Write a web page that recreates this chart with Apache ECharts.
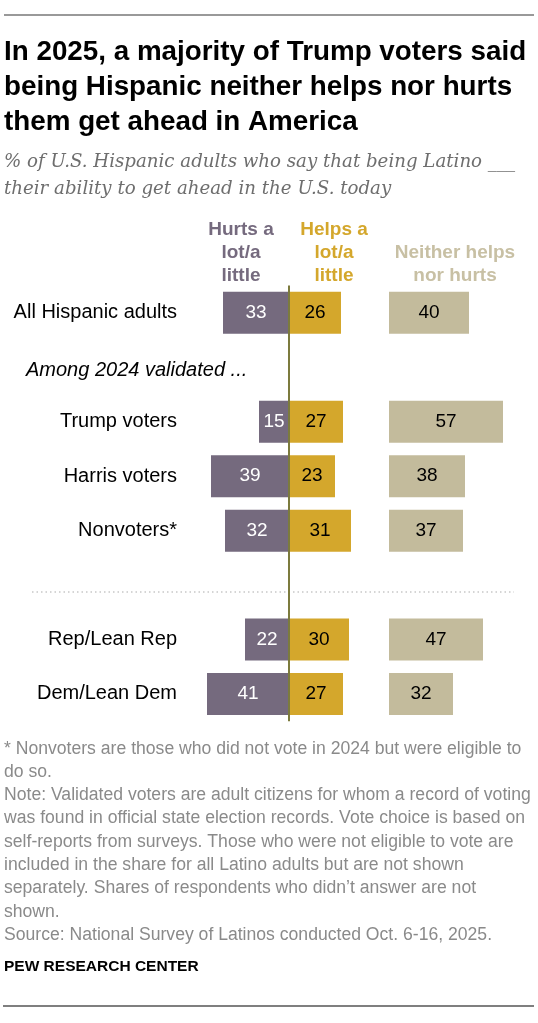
<!DOCTYPE html>
<html>
<head>
<meta charset="utf-8">
<script src="https://cdn.jsdelivr.net/npm/echarts@6/dist/echarts.min.js"></script>
<style>
  html, body { margin: 0; padding: 0; background: #fff; }
  #chart { width: 538px; height: 1023px; }
</style>
</head>
<body>
<div id="chart"></div>
<script>
// rows top to bottom, '' marks a spacer row
const groups = ['All Hispanic adults', '', 'Trump voters', 'Harris voters', 'Nonvoters*', '', 'Rep/Lean Rep', 'Dem/Lean Dem']
const hurts = [33, null, 15, 39, 32, null, 22, 41]
const helps = [26, null, 27, 23, 31, null, 30, 27]
const neither = [40, null, 57, 38, 37, null, 47, 32]
const headers = ['Hurts a\nlot/a\nlittle', 'Helps a\nlot/a\nlittle', 'Neither helps\nnor hurts']

const PURPLE = '#756a7e'
const GOLD = '#d4a72c'
const BEIGE = '#c3bb9c'
const AXIS = '#7c7b3d'
const SANS = '"Liberation Sans", Arial, sans-serif'

const chart = echarts.init(document.getElementById('chart'))

const gridTop = 285.6
const gridH = 435.6

const notes = '* Nonvoters are those who did not vote in 2024 but were eligible to\ndo so.\n' +
  'Note: Validated voters are adult citizens for whom a record of voting\n' +
  'was found in official state election records. Vote choice is based on\n' +
  'self-reports from surveys. Those who were not eligible to vote are\n' +
  'included in the share for all Latino adults but are not shown\n' +
  'separately. Shares of respondents who didn\u2019t answer are not\nshown.\n' +
  'Source: National Survey of Latinos conducted Oct. 6-16, 2025.'

chart.setOption({
  animation: false,
  grid: [
    { left: 189, width: 200, top: gridTop, height: gridH },
    { left: 389, width: 130, top: gridTop, height: gridH }
  ],
  xAxis: [
    { gridIndex: 0, type: 'value', min: -50, max: 50, show: false },
    { gridIndex: 1, type: 'value', min: 0, max: 65, show: false }
  ],
  yAxis: [
    {
      gridIndex: 0, type: 'category', inverse: true, data: groups,
      axisLine: { show: false }, axisTick: { show: false },
      axisLabel: { margin: 12, color: '#000', fontSize: 20, fontFamily: SANS }
    },
    { gridIndex: 1, type: 'category', inverse: true, data: groups, show: false }
  ],
  series: [
    {
      name: 'Hurts', type: 'bar', xAxisIndex: 0, yAxisIndex: 0,
      data: hurts.map(v => v == null ? null : -v),
      barWidth: 42, barGap: '-100%',
      itemStyle: { color: PURPLE },
      label: { show: true, position: 'inside', color: '#fff', fontSize: 19, fontFamily: SANS,
        formatter: p => Math.abs(p.value) }
    },
    {
      name: 'Helps', type: 'bar', xAxisIndex: 0, yAxisIndex: 0,
      data: helps,
      barWidth: 42, barGap: '-100%',
      itemStyle: { color: GOLD },
      label: { show: true, position: 'inside', color: '#000', fontSize: 19, fontFamily: SANS },
      markLine: {
        silent: true, symbol: 'none', label: { show: false },
        lineStyle: { color: AXIS, width: 2, type: 'solid' },
        data: [{ xAxis: 0 }]
      }
    },
    {
      name: 'Neither', type: 'bar', xAxisIndex: 1, yAxisIndex: 1,
      data: neither,
      barWidth: 42,
      itemStyle: { color: BEIGE },
      label: { show: true, position: 'inside', color: '#000', fontSize: 19, fontFamily: SANS }
    }
  ],
  graphic: [
    { type: 'line', shape: { x1: 4, y1: 15, x2: 534, y2: 15 }, style: { stroke: '#777', lineWidth: 1.5 } },
    {
      type: 'text', x: 4, y: 35,
      style: {
        text: 'In 2025, a majority of Trump voters said\nbeing Hispanic neither helps nor hurts\nthem get ahead in America',
        font: 'bold 27.8px ' + SANS, lineHeight: 35, fill: '#000'
      }
    },
    {
      type: 'text', x: 4, y: 149,
      style: {
        text: '% of U.S. Hispanic adults who say that being Latino ___\ntheir ability to get ahead in the U.S. today',
        font: 'italic 18.2px "DejaVu Serif", serif', lineHeight: 27, fill: '#6e6e6e'
      }
    },
    {
      type: 'text', x: 241, y: 287, style: { text: headers[0], font: 'bold 19px ' + SANS, lineHeight: 23,
        fill: PURPLE, align: 'center', verticalAlign: 'bottom' }
    },
    {
      type: 'text', x: 334, y: 287, style: { text: headers[1], font: 'bold 19px ' + SANS, lineHeight: 23,
        fill: GOLD, align: 'center', verticalAlign: 'bottom' }
    },
    {
      type: 'text', x: 455, y: 287, style: { text: headers[2], font: 'bold 19px ' + SANS, lineHeight: 23,
        fill: '#c8c0a4', align: 'center', verticalAlign: 'bottom' }
    },
    {
      type: 'text', x: 26, y: 370, style: { text: 'Among 2024 validated ...', font: 'italic 20px ' + SANS,
        fill: '#000', verticalAlign: 'middle' }
    },
    { type: 'line', shape: { x1: 32, y1: 592, x2: 514, y2: 592 },
      style: { stroke: '#c8c8c8', lineWidth: 1.5, lineDash: [1.5, 3] } },
    {
      type: 'text', x: 4, y: 737,
      style: { text: notes, font: '17.6px ' + SANS, lineHeight: 23.3, fill: '#8a8a8a' }
    },
    {
      type: 'text', x: 4, y: 967,
      style: { text: 'PEW RESEARCH CENTER', font: 'bold 15.5px ' + SANS, fill: '#000', verticalAlign: 'middle' }
    },
    { type: 'line', shape: { x1: 3, y1: 1006, x2: 534, y2: 1006 }, style: { stroke: '#555', lineWidth: 1.5 } }
  ]
})
</script>
</body>
</html>
